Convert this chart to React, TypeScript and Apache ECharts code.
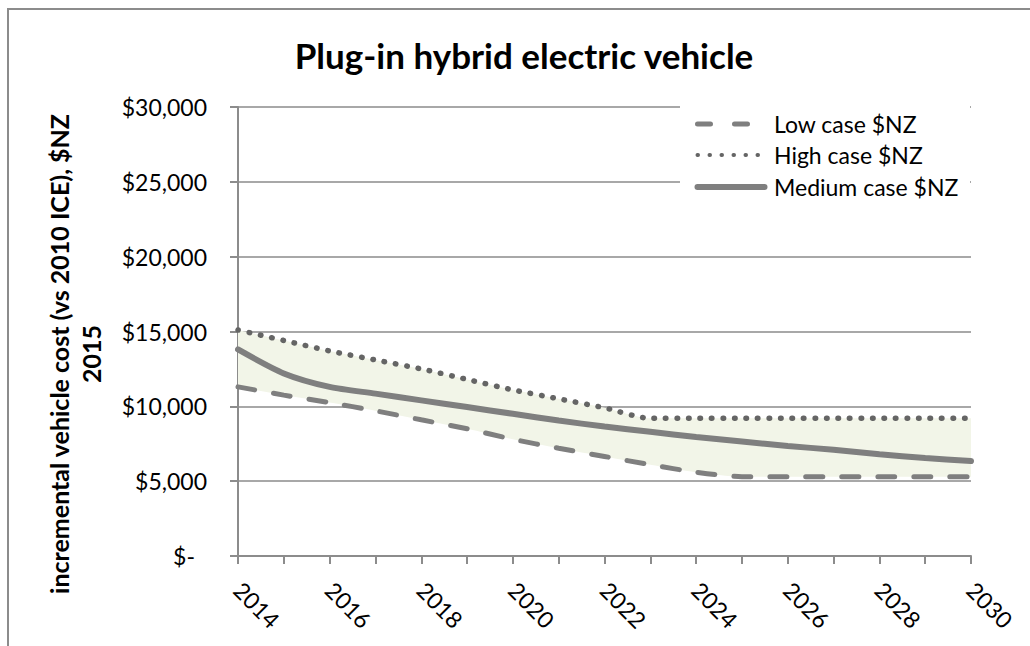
import React, { useEffect, useRef } from 'react';
import * as echarts from 'echarts';

const years = ['2014', '2015', '2016', '2017', '2018', '2019', '2020', '2021', '2022', '2023', '2024', '2025', '2026', '2027', '2028', '2029', '2030'];
const lowCase = [11300, 10750, 10250, 9700, 9100, 8500, 7800, 7200, 6650, 6100, 5600, 5300, 5300, 5300, 5300, 5300, 5300];
const highCase = [15100, 14400, 13700, 13100, 12500, 11800, 11100, 10500, 9900, 9200, 9200, 9200, 9200, 9200, 9200, 9200, 9200];
const mediumCase = [13800, 12200, 11300, 10850, 10400, 9950, 9500, 9050, 8650, 8300, 7950, 7650, 7350, 7100, 6800, 6550, 6350];
const seriesNames = ['Low case $NZ', 'High case $NZ', 'Medium case $NZ'];
const titleText = 'Plug-in hybrid electric vehicle';
const yAxisTitle = 'incremental vehicle cost (vs 2010 ICE), $NZ\n2015';

const FONT = 'Lato, "Open Sans", sans-serif';
const GRAY = '#7f7f7f';
const DOT = '#656565';

export default function App() {
  const ref = useRef<HTMLDivElement>(null);
  useEffect(() => {
    if (!ref.current) return;
    const chart = echarts.init(ref.current, undefined, { renderer: 'svg' });
    const band = highCase.map((h, i) => h - lowCase[i]);
    const smooth = 0.25;
    const legendRows = [124, 155, 187];
    const legendStyles = [
      { stroke: GRAY, lineWidth: 5, lineDash: [13, 24], lineCap: 'round' },
      { stroke: DOT, lineWidth: 4, lineDash: [0.5, 11.5], lineCap: 'round' },
      { stroke: GRAY, lineWidth: 6, lineCap: 'round' },
    ];
    const legendGraphics: any[] = [
      { type: 'rect', shape: { x: 680, y: 103, width: 290, height: 100 }, style: { fill: '#fff' }, z: 100 },
    ];
    seriesNames.forEach((name, i) => {
      legendGraphics.push({
        type: 'line',
        shape: { x1: 697.5, y1: legendRows[i], x2: 764.5, y2: legendRows[i] },
        style: { fill: null, ...legendStyles[i] },
        z: 101,
      });
      legendGraphics.push({
        type: 'text',
        x: 774,
        y: legendRows[i],
        style: { text: name, font: `23px ${FONT}`, fill: '#000', align: 'left', verticalAlign: 'middle' },
        z: 101,
      });
    });

    const option: any = {
      animation: false,
      grid: { left: 238, right: 59, top: 107, bottom: 90 },
      xAxis: {
        type: 'category',
        data: years,
        boundaryGap: false,
        axisLine: { show: true, lineStyle: { color: '#8c8c8c', width: 2 } },
        axisTick: { show: true, interval: 0, length: 8, lineStyle: { color: '#8c8c8c', width: 2 } },
        axisLabel: { interval: 1, rotate: -45, margin: 30, fontSize: 23, fontFamily: FONT, color: '#000' },
        splitLine: { show: false },
      },
      yAxis: {
        type: 'value',
        min: 0,
        max: 30000,
        interval: 5000,
        axisLine: { show: true, lineStyle: { color: '#8c8c8c', width: 2 } },
        axisTick: { show: true, length: 8, lineStyle: { color: '#8c8c8c', width: 2 } },
        splitLine: { show: true, lineStyle: { color: '#a8a8a8', width: 2 } },
        axisLabel: {
          margin: 31,
          fontSize: 23,
          fontFamily: FONT,
          color: '#000',
          formatter: (v: number) => (v === 0 ? '{z|$-}' : '$' + v.toLocaleString('en-US')),
          rich: { z: { fontSize: 23, fontFamily: FONT, color: '#000', padding: [0, 12, 0, 0] } },
        },
      },
      series: [
        {
          name: 'bandBase', type: 'line', data: lowCase, stack: 'band', smooth, symbol: 'none', silent: true,
          lineStyle: { opacity: 0 }, z: 1,
        },
        {
          name: 'band', type: 'line', data: band, stack: 'band', smooth, symbol: 'none', silent: true,
          lineStyle: { opacity: 0 }, areaStyle: { color: '#f2f5e8', opacity: 1 }, z: 1,
        },
        {
          name: seriesNames[0], type: 'line', data: lowCase, smooth, symbol: 'none',
          lineStyle: { color: GRAY, width: 5, type: [17, 19], cap: 'round' }, z: 3,
        },
        {
          name: seriesNames[1], type: 'line', data: highCase, smooth, symbol: 'none',
          lineStyle: { color: DOT, width: 5.5, type: [0.5, 11], cap: 'round' }, z: 3,
        },
        {
          name: seriesNames[2], type: 'line', data: mediumCase, smooth, symbol: 'none',
          lineStyle: { color: GRAY, width: 6, cap: 'round' }, z: 3,
        },
      ],
      graphic: [
        { type: 'rect', shape: { x: 8, y: 9, width: 1200, height: 900 }, style: { fill: 'none', stroke: '#8c8c8c', lineWidth: 2 }, z: 50 },
        {
          type: 'text', x: 524, y: 55,
          style: { text: titleText, font: `bold 35px ${FONT}`, fill: '#000', align: 'center', verticalAlign: 'middle' },
          z: 100,
        },
        {
          type: 'text', x: 75, y: 354, rotation: Math.PI / 2,
          style: { text: yAxisTitle, font: `bold 25px ${FONT}`, lineHeight: 32, fill: '#000', align: 'center', verticalAlign: 'middle' },
          z: 100,
        },
        ...legendGraphics,
      ],
    };
    chart.setOption(option);
    return () => chart.dispose();
  }, []);
  return <div ref={ref} style={{ position: 'absolute', left: 0, top: 0, width: 1030, height: 646 }} />;
}
